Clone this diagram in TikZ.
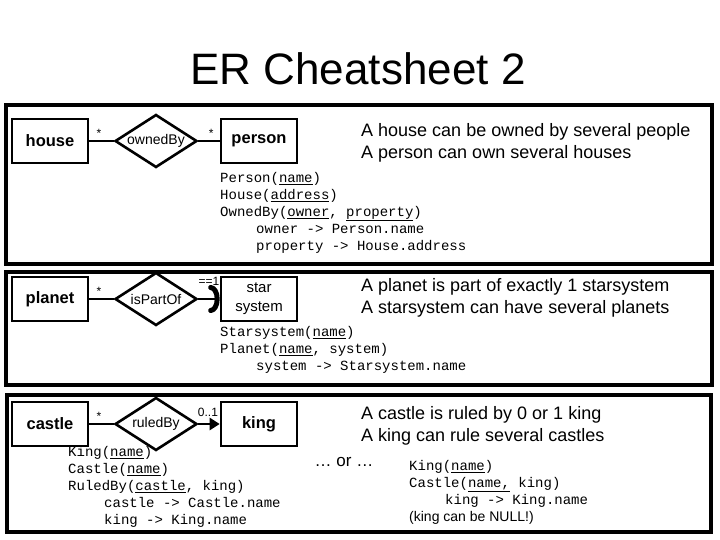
\documentclass[tikz,border=0pt]{standalone}
\usepackage{fontspec}
\setmainfont{Liberation Sans}
\setmonofont{Liberation Mono}
\usetikzlibrary{arrows.meta,positioning,shapes.geometric}
\tikzset{
  panel/.style={draw=black,line width=4pt},
  entity/.style={draw=black,line width=2.6pt,minimum width=76pt,minimum height=44pt,inner sep=0pt,align=center,font=\fontsize{16.5}{19}\selectfont\bfseries},
  relation/.style={draw=black,diamond,line width=2.6pt,minimum width=82pt,minimum height=53pt,inner sep=0pt},
  link/.style={draw=black,line width=2.6pt},
  mult/.style={font=\fontsize{12}{14}\selectfont,inner sep=1pt},
  note/.style={anchor=north west,align=left,inner sep=0pt,font=\fontsize{18}{22}\selectfont},
  schema/.style={anchor=north west,align=left,inner sep=0pt,font=\fontsize{14}{17}\selectfont\ttfamily}
}
\newcommand{\ind}{\hspace*{36pt}}

\begin{document}
\begin{tikzpicture}[x=1pt,y=-1pt,every label/.style={font=\fontsize{14}{16}\selectfont}]
  \useasboundingbox (0,0) rectangle (720,540);
  \node[font=\fontsize{44}{50}\selectfont] (title) at (358,69) {ER Cheatsheet 2};

  % panels
  \draw[panel] (6,105) rectangle (712,264);
  \draw[panel] (6,272) rectangle (712,385);
  \draw[panel] (7,395) rectangle (711,532);

  % house -- ownedBy -- person
  \node[entity] (house) at (50,141) {house};
  \node[relation,label=center:ownedBy] (ownedby) at (156,141) {};
  \node[entity] (person) at (259,141) {person};
  \draw[link] (house) -- node[mult,pos=0.4,above=1pt] {*} (ownedby);
  \draw[link] (ownedby) -- node[mult,pos=0.6,above=1pt] {*} (person);
  \node[note] (housenote) at (361,123) {A house can be owned by several people\\A person can own several houses};
  \node[schema] (houseschema) at (220,172) {Person(\underline{name})\\House(\underline{address})\\OwnedBy(\underline{owner}, \underline{property})\\\ind owner -> Person.name\\\ind property -> House.address};

  % planet -- isPartOf -> star system
  \node[entity] (planet) at (50,299) {planet};
  \node[relation,label=center:isPartOf] (ispartof) at (156,299) {};
  \node[entity,font=\fontsize{15}{19}\selectfont] (starsystem) at (259,299) {star\\system};
  \draw[link] (planet) -- node[mult,pos=0.4,above=1pt] {*} (ispartof);
  \draw[link,-{Arc Barb[length=9pt,width=28pt,line width=5pt,round]}] (ispartof) -- node[mult,pos=0.5,above=11pt] {==1} (starsystem);
  \node[note] (planetnote) at (361,278) {A planet is part of exactly 1 starsystem\\A starsystem can have several planets};
  \node[schema] (planetschema) at (220,326) {Starsystem(\underline{name})\\Planet(\underline{name}, system)\\\ind system -> Starsystem.name};

  % castle -- ruledBy -> king
  \node[entity] (castle) at (50,424) {castle};
  \node[relation,label=center:ruledBy] (ruledby) at (156,424) {};
  \node[entity] (king) at (259,424) {king};
  \draw[link] (castle) -- node[mult,pos=0.4,above=1pt] {*} (ruledby);
  \draw[link,-{Triangle[length=10pt,width=12pt]}] (ruledby) -- node[mult,pos=0.45,above=5pt] {0..1} (king);
  \node[note] (castlenote) at (361,406) {A castle is ruled by 0 or 1 king\\A king can rule several castles};
  \node[schema] (castleschema) at (68,446) {King(\underline{name})\\Castle(\underline{name})\\RuledBy(\underline{castle}, king)\\\ind castle -> Castle.name\\\ind king -> King.name};
  \node[font=\fontsize{17}{20}\selectfont] (ornode) at (344,462) {… or …};
  \node[schema] (altschema) at (409,460) {King(\underline{name})\\Castle(\underline{name,} king)\\\ind king -> King.name\\{\rmfamily (king can be NULL!)}};
\end{tikzpicture}
\end{document}
